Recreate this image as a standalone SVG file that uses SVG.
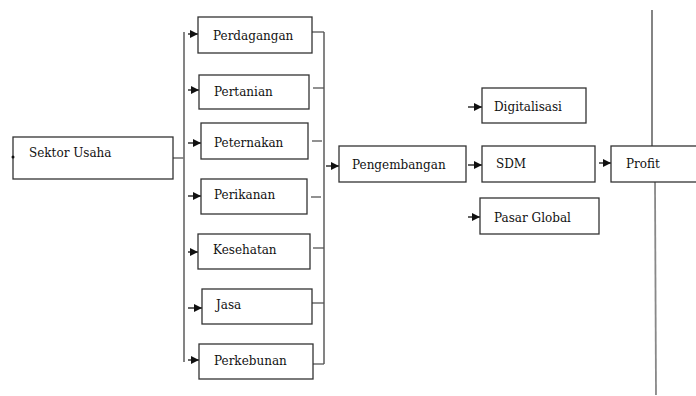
<svg xmlns="http://www.w3.org/2000/svg" width="696" height="396" viewBox="0 0 696 396">
<style>
.box{fill:#fff;stroke:#333;stroke-width:1.3}
.t{font-family:"DejaVu Serif","Liberation Serif",serif;font-size:12px;fill:#111}
.ln{stroke:#555;stroke-width:1.3;fill:none}
.bus{stroke:#777;stroke-width:1.8;fill:none}
.ar{stroke:#111;stroke-width:1.3;fill:none;marker-end:url(#ah)}
</style>
<defs>
<marker id="ah" markerUnits="userSpaceOnUse" markerWidth="10" markerHeight="10" refX="8" refY="5" orient="auto">
<path d="M0,1 L8,5 L0,9 Z" fill="#111"/>
</marker>
</defs>
<g id="connectors">
<line class="ln" x1="173" y1="158" x2="184" y2="158"/>
<line class="bus" x1="184" y1="32" x2="184" y2="362"/>
<line class="ar" x1="188" y1="34" x2="198" y2="34"/>
<line class="ar" x1="188" y1="90" x2="199" y2="90"/>
<line class="ar" x1="188" y1="143" x2="201" y2="143"/>
<line class="ar" x1="188" y1="196" x2="201" y2="196"/>
<line class="ar" x1="188" y1="252" x2="198" y2="252"/>
<line class="ar" x1="188" y1="308" x2="202" y2="308"/>
<line class="ar" x1="188" y1="360" x2="199" y2="360"/>
<line class="bus" x1="324" y1="32" x2="324" y2="364"/>
<line class="ln" x1="312" y1="32" x2="324" y2="32"/>
<line class="ln" x1="313" y1="88" x2="324" y2="88"/>
<line class="ln" x1="312" y1="141" x2="322" y2="141"/>
<line class="ln" x1="311" y1="197" x2="321" y2="197"/>
<line class="ln" x1="313" y1="248" x2="324" y2="248"/>
<line class="ln" x1="312" y1="303" x2="324" y2="303"/>
<line class="ln" x1="313" y1="364" x2="324" y2="364"/>
<line class="ar" x1="326" y1="166" x2="339" y2="166"/>
<line class="ar" x1="468" y1="107" x2="482" y2="107"/>
<line class="ar" x1="468" y1="165" x2="482" y2="165"/>
<line class="ar" x1="468" y1="217" x2="480" y2="217"/>
<line class="ar" x1="599" y1="163" x2="611" y2="163"/>
<line x1="652" y1="10" x2="652" y2="146" stroke="#333" stroke-width="1.2"/>
<line x1="655" y1="182" x2="656" y2="395" stroke="#888" stroke-width="1.8"/>
</g>
<g id="sektor"><rect class="box" x="13" y="137" width="160" height="42"/><circle cx="13" cy="157" r="1.5" fill="#111"/><text class="t" x="29" y="157">Sektor Usaha</text></g>
<g id="perdagangan"><rect class="box" x="198" y="17" width="114" height="36"/><text class="t" x="213" y="40">Perdagangan</text></g>
<g id="pertanian"><rect class="box" x="199" y="75" width="110" height="34"/><text class="t" x="214" y="96">Pertanian</text></g>
<g id="peternakan"><rect class="box" x="201" y="123" width="107" height="36"/><text class="t" x="214" y="147">Peternakan</text></g>
<g id="perikanan"><rect class="box" x="201" y="179" width="106" height="35"/><text class="t" x="214" y="199">Perikanan</text></g>
<g id="kesehatan"><rect class="box" x="198" y="234" width="112" height="35"/><text class="t" x="213" y="254">Kesehatan</text></g>
<g id="jasa"><rect class="box" x="202" y="289" width="110" height="35"/><text class="t" x="216" y="309">Jasa</text></g>
<g id="perkebunan"><rect class="box" x="199" y="344" width="114" height="35"/><text class="t" x="214" y="365">Perkebunan</text></g>
<g id="pengembangan"><rect class="box" x="339" y="146" width="127" height="36"/><text class="t" x="352" y="169">Pengembangan</text></g>
<g id="digitalisasi"><rect class="box" x="482" y="88" width="104" height="35"/><text class="t" x="494" y="111">Digitalisasi</text></g>
<g id="sdm"><rect class="box" x="482" y="146" width="113" height="36"/><text class="t" x="496" y="168">SDM</text></g>
<g id="pasar"><rect class="box" x="480" y="198" width="119" height="36"/><text class="t" x="494" y="222">Pasar Global</text></g>
<g id="profit"><rect class="box" x="611" y="146" width="100" height="36"/><text class="t" x="626" y="168">Profit</text></g>
</svg>
